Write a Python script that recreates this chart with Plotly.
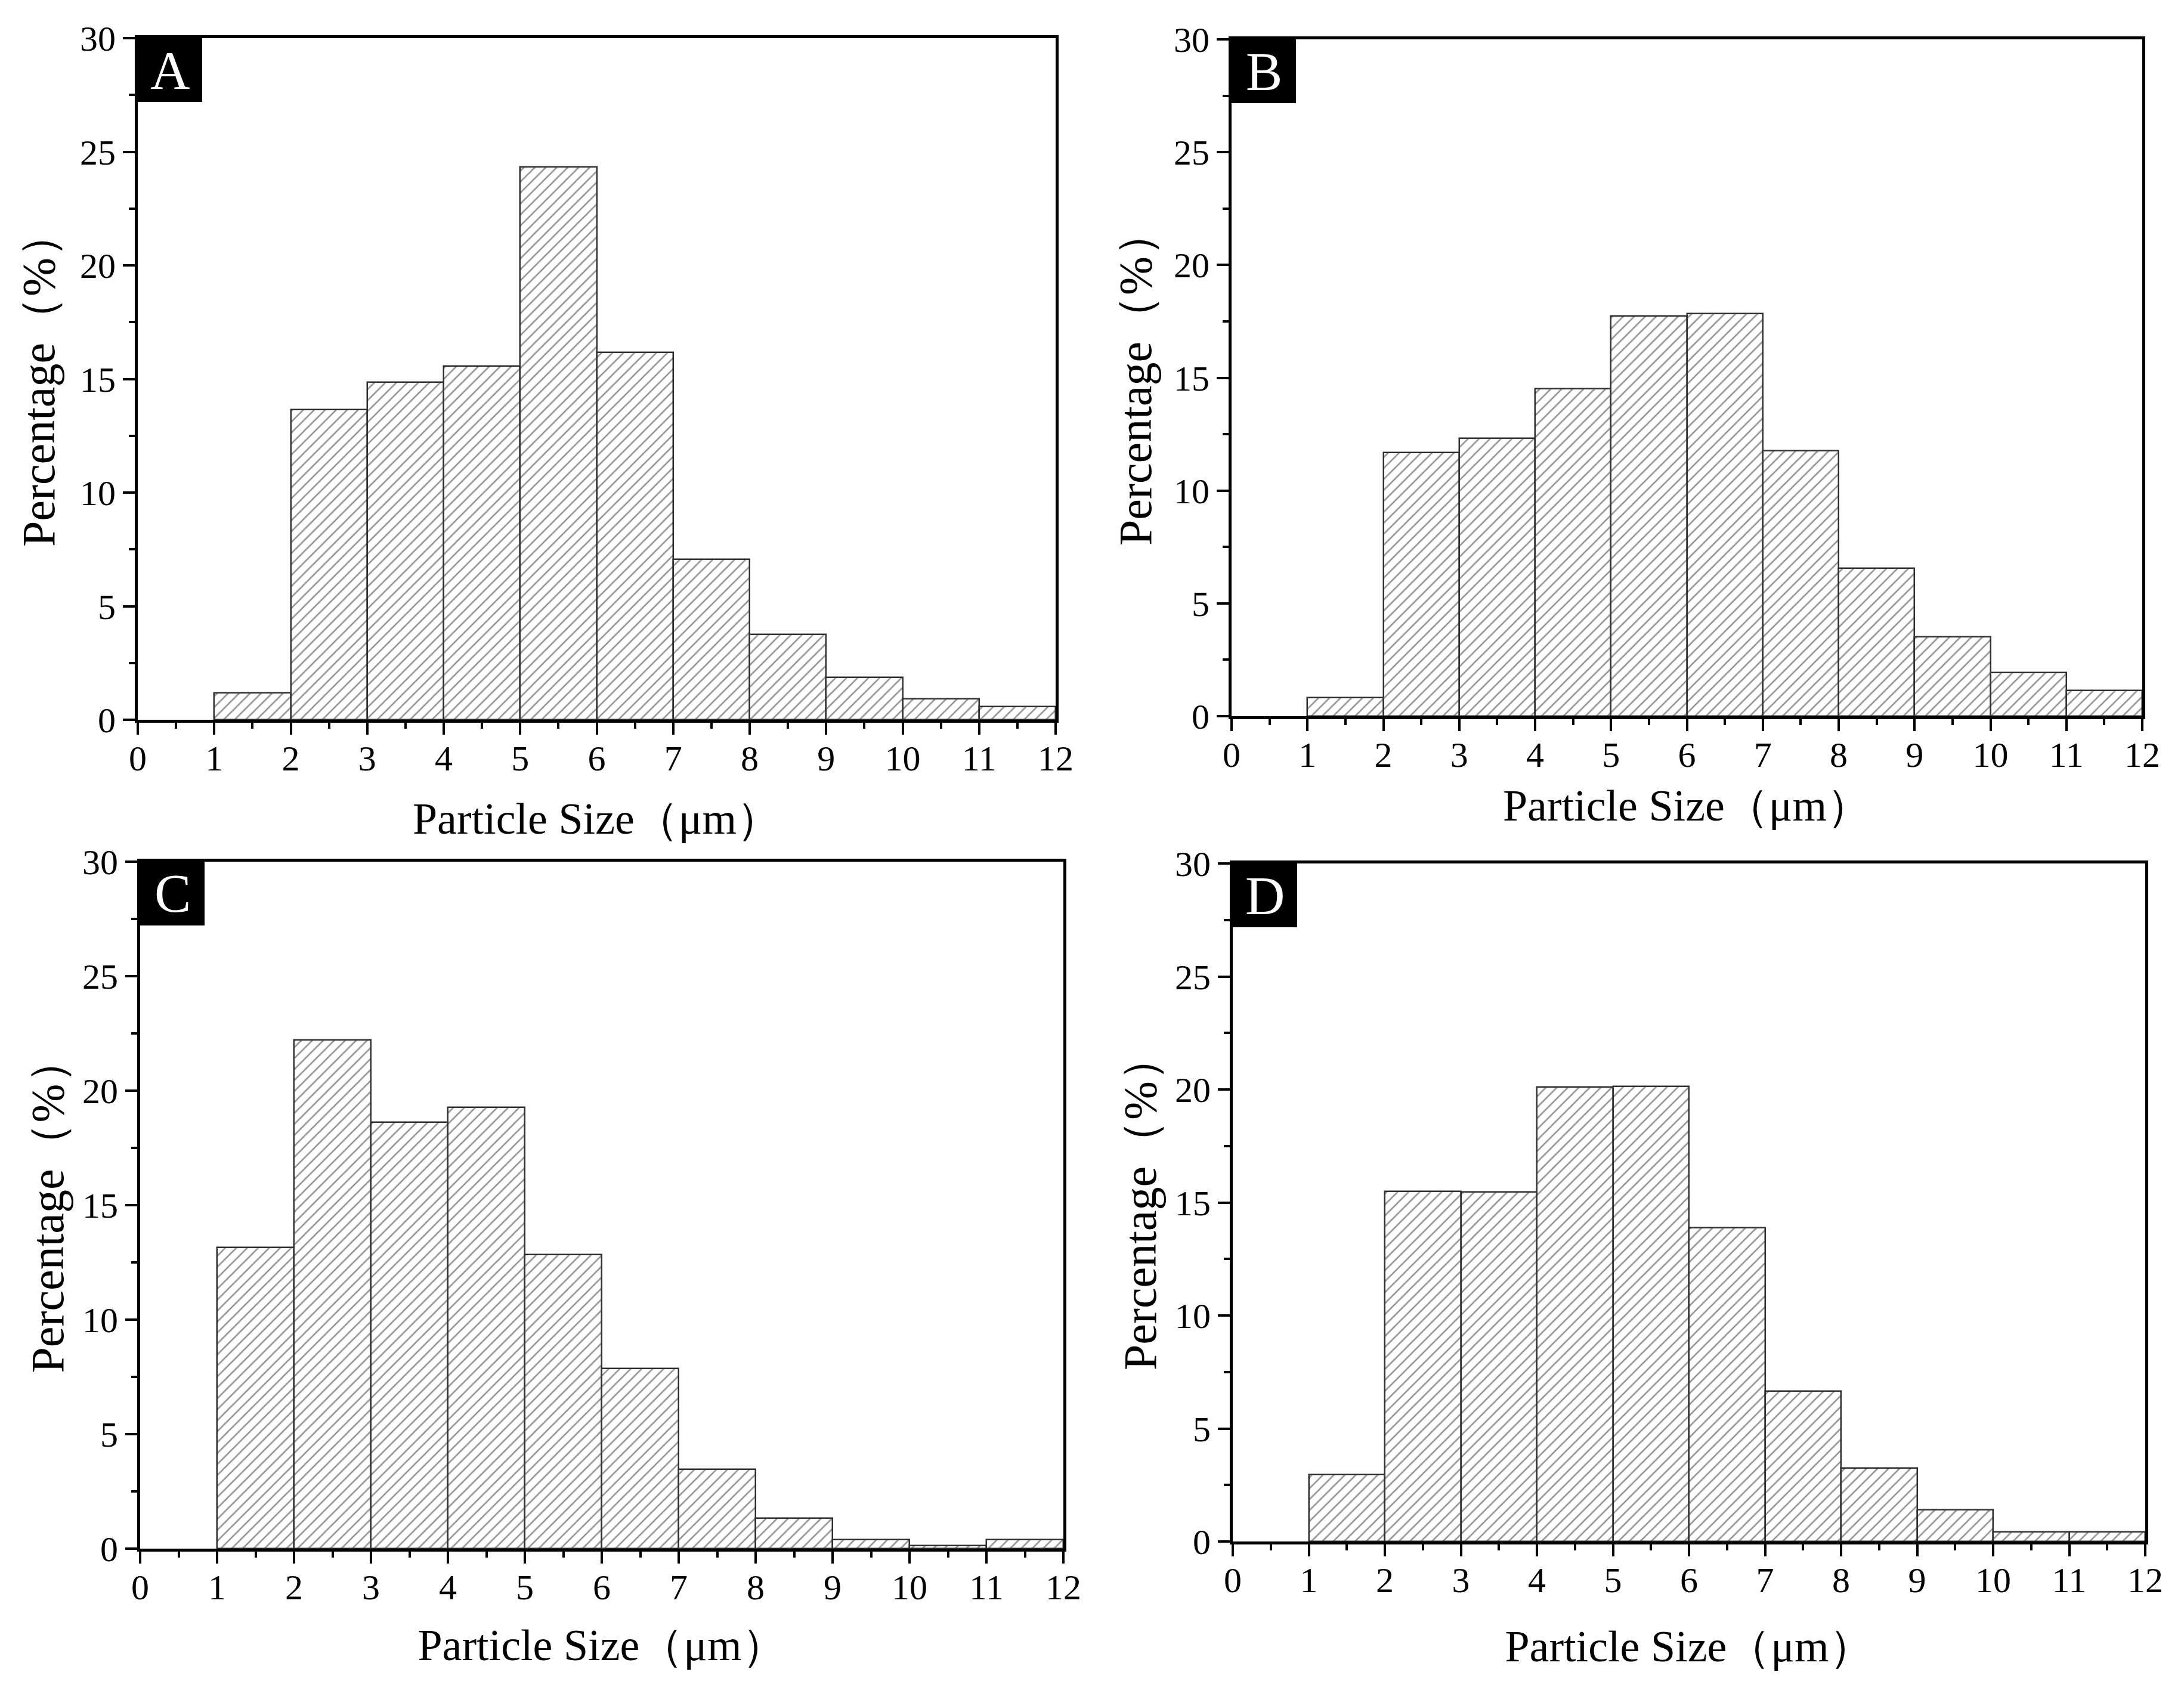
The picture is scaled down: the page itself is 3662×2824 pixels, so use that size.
import plotly.graph_objects as go

# ---------------- data ----------------
bin_starts = [1, 2, 3, 4, 5, 6, 7, 8, 9, 10, 11]
values_A = [1.18, 13.65, 14.86, 15.57, 24.32, 16.16, 7.07, 3.76, 1.87, 0.92, 0.57]
values_B = [0.83, 11.69, 12.31, 14.52, 17.74, 17.84, 11.76, 6.56, 3.51, 1.93, 1.14]
values_C = [13.16, 22.21, 18.62, 19.28, 12.83, 7.86, 3.47, 1.34, 0.38, 0.14, 0.38]
values_D = [2.95, 15.48, 15.45, 20.10, 20.14, 13.88, 6.64, 3.24, 1.40, 0.43, 0.43]
panel_labels = ["A", "B", "C", "D"]
x_tickvals = list(range(0, 13))
y_tickvals = [0, 5, 10, 15, 20, 25, 30]
x_title = "Particle Size（μm）"
y_title = "Percentage（%）"

series = [values_A, values_B, values_C, values_D]

W, H = 3662, 2824
OFF = 8  # page body margin offset
# pixel boxes of the four plot areas (left, right, top, bottom)
boxes = [
    (231, 1770, 64, 1207),
    (2065, 3592, 66, 1201),
    (235, 1783, 1445, 2597),
    (2067, 3597, 1448, 2585),
]
x_standoffs = [44, 28, 40, 54]
y_standoffs = [18, 13, 7, 7]

FONT = "Liberation Serif"

fig = go.Figure()
layout = dict(
    width=W, height=H,
    margin=dict(l=0, r=0, t=0, b=0, autoexpand=False),
    paper_bgcolor="white", plot_bgcolor="white",
    showlegend=False, bargap=0,
)
shapes = []
annotations = []

for i, vals in enumerate(series):
    n = "" if i == 0 else str(i + 1)
    xa, ya = "x" + n, "y" + n
    fig.add_trace(go.Bar(
        x=bin_starts, y=vals, width=1, offset=0,
        xaxis=xa, yaxis=ya,
        marker=dict(
            color="white",
            line=dict(color="#303030", width=2.5),
            pattern=dict(shape="/", fgcolor="#2a2a2a", bgcolor="white",
                         size=13, solidity=0.2),
        ),
    ))
    l, r, t, b = boxes[i]
    xdom = [(l - OFF) / W, (r - OFF) / W]
    ydom = [1 - (b - OFF) / H, 1 - (t - OFF) / H]
    common = dict(
        showline=True, linewidth=5, linecolor="black", mirror=True,
        ticks="outside", ticklen=20, tickwidth=4, tickcolor="black",
        showgrid=False, zeroline=False, automargin=False,
        tickfont=dict(family=FONT, size=60, color="black"),
    )
    layout["xaxis" + n] = dict(
        domain=xdom, range=[0, 12], anchor=ya,
        tickvals=x_tickvals, ticklabelstandoff=-12,
        minor=dict(dtick=0.5, ticklen=10, tickwidth=4, tickcolor="black", ticks="outside"),
        title=dict(text=x_title, font=dict(family=FONT, size=74, color="black"),
                   standoff=x_standoffs[i]),
        **common,
    )
    layout["yaxis" + n] = dict(
        domain=ydom, range=[0, 30], anchor=xa,
        tickvals=y_tickvals,
        minor=dict(dtick=2.5, ticklen=10, tickwidth=4, tickcolor="black", ticks="outside"),
        title=dict(text=y_title, font=dict(family=FONT, size=78, color="black"),
                   standoff=y_standoffs[i]),
        **common,
    )
    # black label box in the upper-left corner
    bw = 108 / (r - l)
    bh = 107 / (b - t)
    shapes.append(dict(
        type="rect", xref=xa + " domain", yref=ya + " domain",
        x0=0, x1=bw, y0=1 - bh, y1=1,
        fillcolor="black", line=dict(width=0), layer="above",
    ))
    annotations.append(dict(
        text=panel_labels[i], xref=xa + " domain", yref=ya + " domain",
        x=bw / 2, y=1 - bh / 2, xanchor="center", yanchor="middle",
        showarrow=False, font=dict(family=FONT, size=92, color="white"),
    ))

layout["shapes"] = shapes
layout["annotations"] = annotations
fig.update_layout(**layout)
fig.write_html("out.html")
